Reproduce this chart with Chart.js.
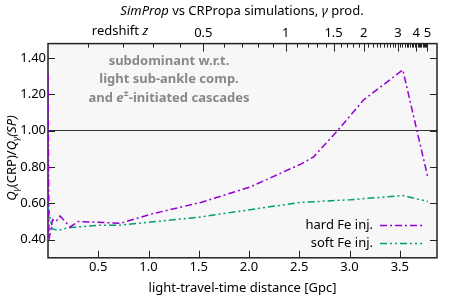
<!DOCTYPE html>
<html>
<head>
<meta charset="utf-8">
<script src="https://cdn.jsdelivr.net/npm/chart.js@4.4.1/dist/chart.umd.min.js"></script>
<style>
  body { margin: 0; background: #fff; }
</style>
</head>
<body>
<canvas id="chart" width="450" height="300"></canvas>
<script>
// values
const hardDist  = [0, 0.01, 0.045, 0.08, 0.12, 0.22, 0.30, 0.72, 1.02, 1.52, 2.01, 2.51, 2.64, 2.88, 3.14, 3.53, 3.78];
const hardRatio = [1.31, 0.40, 0.51, 0.50, 0.53, 0.47, 0.50, 0.49, 0.54, 0.605, 0.69, 0.815, 0.855, 1.0, 1.17, 1.335, 0.74];
const softDist  = [0, 0.04, 0.10, 0.19, 0.52, 0.72, 1.52, 1.91, 2.51, 3.01, 3.53, 3.78];
const softRatio = [0.58, 0.46, 0.45, 0.465, 0.48, 0.48, 0.525, 0.557, 0.605, 0.62, 0.643, 0.61];

const seriesNames  = ['hard Fe inj.', 'soft Fe inj.'];
const seriesColors = ['#9400d3', '#009e73'];

const xTicks = [0.5, 1, 1.5, 2, 2.5, 3, 3.5];
const yTicks = [0.4, 0.6, 0.8, 1.0, 1.2, 1.4];
const zMajor = [0.5, 1, 1.5, 2, 3, 4, 5];
const zLabels = ['0.5', '1', '1.5', '2', '3', '4', '5'];

const FONT = "'Noto Sans', 'DejaVu Sans', sans-serif";
const X_MAX = 3.87;

// light-travel distance in Gpc for redshift z (H0=70, Om=0.3, flat)
function lightTravel(z) {
  const n = 200, h = z / n;
  const f = t => 1 / ((1 + t) * Math.sqrt(0.3 * Math.pow(1 + t, 3) + 0.7));
  let s = f(0) + f(z);
  for (let i = 1; i < n; i++) s += f(i * h) * (i % 2 ? 4 : 2);
  return s * h / 3 * (299792.458 / 70 / 1000);
}

const zMinor = [];
for (let i = 1; i <= 50; i++) {
  const z = i / 10;
  if (!zMajor.some(m => Math.abs(m - z) < 1e-9)) zMinor.push(z);
}

const pts = (xs, ys) => xs.map((x, i) => ({ x: x, y: ys[i] }));
const dashes = [[7, 3, 2, 3], [7, 3, 2, 3, 2, 3]];

// draws a run of text pieces with different fonts
function drawRich(ctx, parts, x, y, align) {
  let total = 0;
  parts.forEach(p => { ctx.font = p.font; p.w = ctx.measureText(p.t).width; total += p.w; });
  let cx = align === 'center' ? x - total / 2 : (align === 'right' ? x - total : x);
  ctx.textAlign = 'left';
  ctx.textBaseline = 'middle';
  parts.forEach(p => {
    ctx.font = p.font;
    ctx.fillText(p.t, cx, y + (p.dy || 0));
    cx += p.w;
  });
}

const framePlugin = {
  id: 'frame',
  beforeDraw(chart) {
    const { ctx, chartArea: a } = chart;
    ctx.save();
    ctx.fillStyle = '#f7f7f7';
    ctx.fillRect(a.left, a.top, a.right - a.left, a.bottom - a.top);
    ctx.restore();
  },
  beforeDatasetsDraw(chart) {
    const { ctx, chartArea: a, scales } = chart;
    ctx.save();
    ctx.strokeStyle = '#222';
    ctx.lineWidth = 1;
    ctx.beginPath();
    xTicks.forEach(v => {
      const p = Math.round(scales.x.getPixelForValue(v)) + 0.5;
      ctx.moveTo(p, a.bottom); ctx.lineTo(p, a.bottom - 7);
    });
    yTicks.forEach(v => {
      const p = Math.round(scales.y.getPixelForValue(v)) + 0.5;
      ctx.moveTo(a.left, p); ctx.lineTo(a.left + 7, p);
      ctx.moveTo(a.right, p); ctx.lineTo(a.right - 7, p);
    });
    zMajor.forEach(z => {
      const p = Math.round(scales.x2.getPixelForValue(lightTravel(z))) + 0.5;
      ctx.moveTo(p, a.top); ctx.lineTo(p, a.top + 8);
    });
    zMinor.forEach(z => {
      const d = lightTravel(z);
      if (d > X_MAX) return;
      const p = Math.round(scales.x2.getPixelForValue(d)) + 0.5;
      ctx.moveTo(p, a.top); ctx.lineTo(p, a.top + 4);
    });
    ctx.stroke();
    ctx.lineWidth = 1.5;
    ctx.strokeRect(a.left, a.top, a.right - a.left, a.bottom - a.top);
    ctx.restore();
  },
  afterDraw(chart) {
    const { ctx } = chart;
    ctx.save();
    ctx.fillStyle = '#000';
    const reg = '13px ' + FONT, ita = 'italic 13px ' + FONT;

    // title
    drawRich(ctx, [
      { t: 'SimProp', font: ita },
      { t: ' vs CRPropa simulations, ', font: reg },
      { t: 'γ', font: ita },
      { t: ' prod.', font: reg }
    ], 242, 11, 'center');

    // top axis name
    drawRich(ctx, [
      { t: 'redshift ', font: reg },
      { t: 'z', font: ita }
    ], 120, 31, 'center');

    // y axis name
    ctx.save();
    ctx.translate(12, 158);
    ctx.rotate(-Math.PI / 2);
    const sub = 'italic 9px ' + FONT;
    drawRich(ctx, [
      { t: 'Q', font: ita }, { t: 'γ', font: sub, dy: 4 },
      { t: '(CRP)/', font: reg },
      { t: 'Q', font: ita }, { t: 'γ', font: sub, dy: 4 },
      { t: '(SP)', font: ita }
    ], 0, 0, 'center');
    ctx.restore();

    // note
    ctx.fillStyle = '#888';
    const bold = 'bold 13px ' + FONT;
    drawRich(ctx, [{ t: 'subdominant w.r.t.', font: bold }], 169, 61, 'center');
    drawRich(ctx, [{ t: 'light sub-ankle comp.', font: bold }], 169, 79, 'center');
    drawRich(ctx, [
      { t: 'and ', font: bold },
      { t: 'e', font: 'italic bold 13px ' + FONT },
      { t: '±', font: 'bold 9px ' + FONT, dy: -5 },
      { t: '-initiated cascades', font: bold }
    ], 169, 98, 'center');

    // legend
    seriesNames.forEach((name, i) => {
      const y = 225 + i * 18;
      ctx.fillStyle = '#000';
      drawRich(ctx, [{ t: name, font: reg }], 373, y, 'right');
      ctx.strokeStyle = seriesColors[i];
      ctx.lineWidth = 1.5;
      ctx.setLineDash(dashes[i]);
      ctx.beginPath();
      ctx.moveTo(380, y + 0.5); ctx.lineTo(422, y + 0.5);
      ctx.stroke();
      ctx.setLineDash([]);
    });
    ctx.restore();
  }
};

new Chart(document.getElementById('chart'), {
  type: 'line',
  data: {
    datasets: [
      { label: seriesNames[0], data: pts(hardDist, hardRatio), borderColor: seriesColors[0], borderDash: dashes[0] },
      { label: seriesNames[1], data: pts(softDist, softRatio), borderColor: seriesColors[1], borderDash: dashes[1] }
    ]
  },
  options: {
    responsive: false,
    animation: false,
    layout: { padding: { left: 0, right: 13, top: 22, bottom: 0 } },
    elements: {
      point: { radius: 0 },
      line: { borderWidth: 1.5, tension: 0, fill: false }
    },
    plugins: {
      legend: { display: false },
      tooltip: { enabled: false }
    },
    scales: {
      x: {
        type: 'linear',
        position: 'bottom',
        min: 0,
        max: X_MAX,
        afterBuildTicks: s => { s.ticks = xTicks.map(v => ({ value: v })); },
        grid: { display: false, drawTicks: false },
        border: { display: false },
        ticks: { color: '#000', font: { family: FONT, size: 13 }, padding: 2, maxRotation: 0, autoSkip: false },
        title: {
          display: true,
          text: 'light-travel-time distance [Gpc]',
          color: '#000',
          font: { family: FONT, size: 13 },
          padding: { top: 3, bottom: 4 }
        }
      },
      x2: {
        type: 'linear',
        position: 'top',
        min: 0,
        max: X_MAX,
        afterBuildTicks: s => { s.ticks = zMajor.map(z => ({ value: lightTravel(z) })); },
        grid: { display: false, drawTicks: false },
        border: { display: false },
        ticks: {
          color: '#000',
          font: { family: FONT, size: 13 },
          padding: 3,
          maxRotation: 0,
          autoSkip: false,
          callback: (v, i) => zLabels[i]
        }
      },
      y: {
        min: 0.30,
        max: 1.48,
        afterBuildTicks: s => { s.ticks = yTicks.map(v => ({ value: v })); },
        afterFit: s => { s.width = 48; },
        border: { display: false },
        grid: {
          drawTicks: false,
          lineWidth: 1,
          color: c => (c.tick && Math.abs(c.tick.value - 1) < 1e-9) ? '#333' : 'rgba(0,0,0,0)'
        },
        ticks: {
          color: '#000',
          font: { family: FONT, size: 13 },
          padding: 2,
          callback: v => v.toFixed(2)
        }
      }
    }
  },
  plugins: [framePlugin]
});
</script>
</body>
</html>
